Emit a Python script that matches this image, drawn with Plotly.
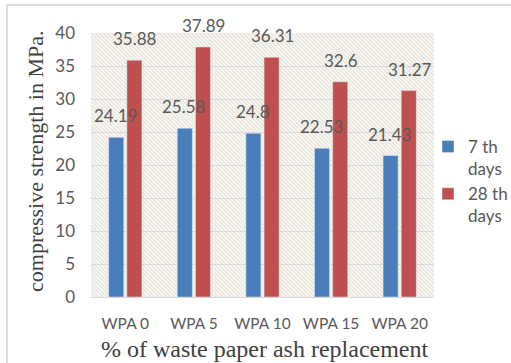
import plotly.graph_objects as go
import base64

categories = ["WPA 0", "WPA 5", "WPA 10", "WPA 15", "WPA 20"]
days7 = [24.19, 25.58, 24.8, 22.53, 21.43]
days28 = [35.88, 37.89, 36.31, 32.6, 31.27]
y_ticks = [0, 5, 10, 15, 20, 25, 30, 35, 40]

W, H = 511, 363
L, R, T, B = 91, 77, 33, 66
PW, PH = W - L - R, H - T - B

BLUE = "#4A7EBB"
RED = "#C0504D"
GRAY = "#595959"
NUMFONT = "Lato, Open Sans, sans-serif"
SERIF = "Liberation Serif, Times New Roman, serif"

# hatch background as svg
svg = (
    f'<svg xmlns="http://www.w3.org/2000/svg" width="{PW}" height="{PH}" viewBox="0 0 {PW} {PH}" preserveAspectRatio="none">'
    '<defs><pattern id="p" width="4" height="4" patternUnits="userSpaceOnUse">'
    '<rect width="4" height="4" fill="#F6F4EE"/>'
    '<path d="M-1,-1 L5,5 M-1,3 L1,5 M3,-1 L5,1" stroke="#DCD8D0" stroke-width="0.8"/>'
    '</pattern></defs>'
    f'<rect width="{PW}" height="{PH}" fill="url(#p)"/></svg>'
)
uri = "data:image/svg+xml;base64," + base64.b64encode(svg.encode()).decode()

fig = go.Figure()
fig.add_trace(go.Bar(x=categories, y=days7, name="7 th<br>days", marker_color=BLUE))
fig.add_trace(go.Bar(x=categories, y=days28, name="28 th<br>days", marker_color=RED))

annotations = []
for i, c in enumerate(categories):
    for val, dx in ((days7[i], -10), (days28[i], 10)):
        annotations.append(dict(
            x=c, y=val, xref="x", yref="y", text=f"{val:g}", showarrow=False,
            xshift=dx, yshift=9, yanchor="bottom",
            font=dict(family=NUMFONT, size=17, color=GRAY)))

# axis titles as annotations for exact placement
annotations.append(dict(
    text="compressive strength in MPa.", xref="paper", yref="paper",
    x=(35 - L) / PW, y=(H - B - 161) / PH, xanchor="center", yanchor="middle",
    textangle=-90, showarrow=False,
    font=dict(family=SERIF, size=22, color="#404040")))
annotations.append(dict(
    text="% of waste paper ash replacement", xref="paper", yref="paper",
    x=(265 - L) / PW, y=(H - B - 349) / PH, xanchor="center", yanchor="middle",
    showarrow=False,
    font=dict(family=SERIF, size=24, color="#404040")))

fig.update_layout(
    width=W, height=H,
    margin=dict(l=L, r=R, t=T, b=B, autoexpand=False),
    paper_bgcolor="white",
    plot_bgcolor="rgba(0,0,0,0)",
    barmode="group", bargap=0.47, bargroupgap=0.17,
    showlegend=True,
    legend=dict(xref="container", yref="container",
                x=428 / W, y=1 - 129 / H, xanchor="left", yanchor="top",
                valign="top",
                font=dict(family=NUMFONT, size=17, color=GRAY),
                itemwidth=30, tracegroupgap=6, bgcolor="rgba(0,0,0,0)"),
    annotations=annotations,
    images=[dict(source=uri, xref="paper", yref="paper", x=0, y=1,
                 sizex=1, sizey=1, sizing="stretch", xanchor="left",
                 yanchor="top", layer="below")],
    shapes=[dict(type="rect", xref="paper", yref="paper",
                 x0=(7 - L) / PW, x1=(540 - L) / PW,
                 y0=(H - B - 390) / PH, y1=(H - B - 5) / PH,
                 line=dict(color="#DCDCDC", width=2), layer="below")],
)
fig.update_yaxes(
    range=[0, 40], tickvals=y_ticks, showgrid=True, gridcolor="#D9D9D9",
    gridwidth=1, zeroline=False, showline=False, automargin=False,
    tickfont=dict(family=NUMFONT, size=17, color=GRAY), ticklabelstandoff=15,
)
fig.update_xaxes(
    showline=True, linecolor="#D9D9D9", linewidth=1, automargin=False,
    tickfont=dict(family=NUMFONT, size=15.5, color=GRAY), ticklabelstandoff=12,
)

fig.write_html("out.html", config={"displayModeBar": False},
               post_script="document.body.style.margin='0';")
